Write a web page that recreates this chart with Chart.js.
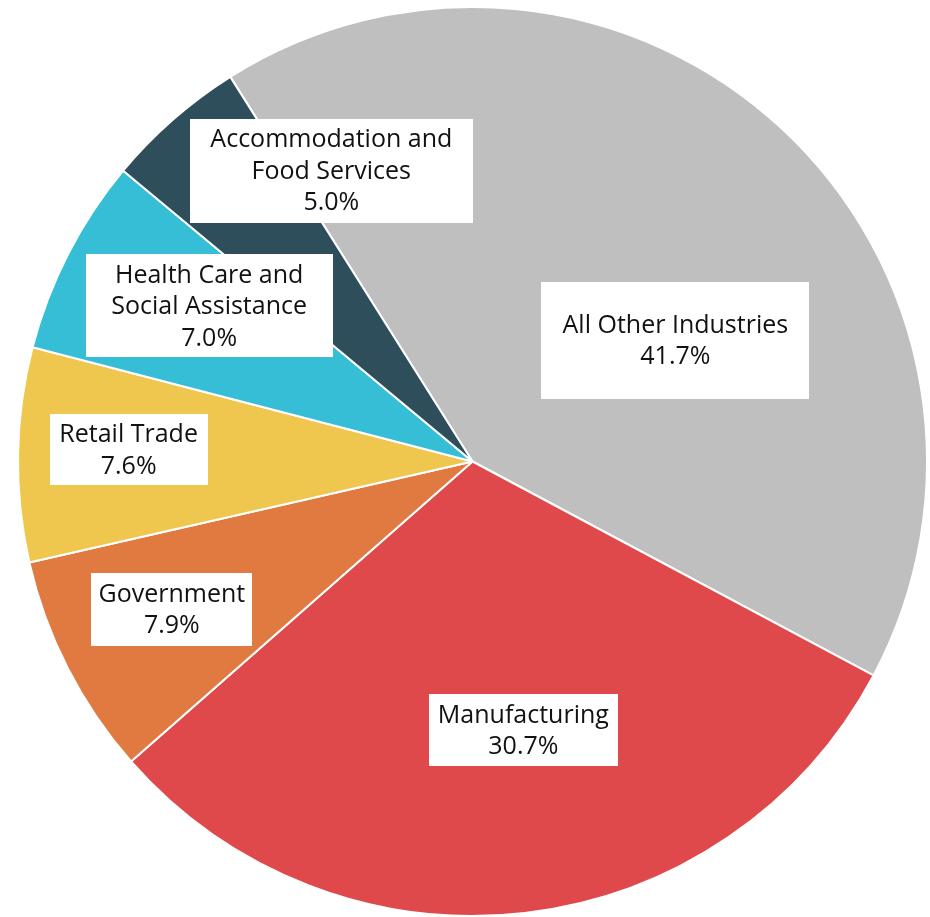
<!DOCTYPE html>
<html>
<head>
<meta charset="utf-8">
<script src="https://cdn.jsdelivr.net/npm/chart.js@4/dist/chart.umd.min.js"></script>
<style>
  html, body { margin: 0; padding: 0; background: #ffffff; }
  #wrap { width: 930px; height: 917px; }
</style>
</head>
<body>
<div id="wrap"><canvas id="c" width="930" height="917"></canvas></div>
<script>
// Share of total by industry (percent)
const industries = [
  'All Other Industries',
  'Manufacturing',
  'Government',
  'Retail Trade',
  'Health Care and Social Assistance',
  'Accommodation and Food Services'
];
const shares = [41.7, 30.7, 7.9, 7.6, 7.0, 5.0];

// Lines shown in each label box (name lines, then the percentage)
const labelLines = [
  ['All Other Industries'],
  ['Manufacturing'],
  ['Government'],
  ['Retail Trade'],
  ['Health Care and', 'Social Assistance'],
  ['Accommodation and', 'Food Services']
];

// Slice colours
const sliceColors = ['#BFBFBF', '#E0494B', '#E07A41', '#EFC74F', '#35BED5', '#2E4E5B'];

// Label box placement: angle nudge from the slice middle (deg), distance as a fraction of the radius
const labelAngleNudge = [16.2, -4.1, 0.9, 1.1, 3.4, 15.3];
const labelRadiusFrac = [0.52, 0.602, 0.737, 0.757, 0.673, 0.711];
// Label box sizes (px)
const labelBoxW = [268, 189, 161, 158, 247, 283];
const labelBoxH = [117, 72, 73, 71, 103, 104];

const LABEL_FONT = '25px "Open Sans", "Liberation Sans", sans-serif';
const LINE_H = 31.5;

const boxLabels = {
  id: 'boxLabels',
  afterDatasetsDraw(chart) {
    const ctx = chart.ctx;
    const meta = chart.getDatasetMeta(0);
    ctx.save();
    ctx.font = LABEL_FONT;
    ctx.textAlign = 'center';
    ctx.textBaseline = 'middle';
    meta.data.forEach((arc, i) => {
      const p = arc.getProps(['x', 'y', 'startAngle', 'endAngle', 'outerRadius'], true);
      const a = (p.startAngle + p.endAngle) / 2 + labelAngleNudge[i] * Math.PI / 180;
      const r = p.outerRadius * labelRadiusFrac[i];
      const cx = p.x + Math.cos(a) * r;
      const cy = p.y + Math.sin(a) * r;
      const w = labelBoxW[i], h = labelBoxH[i];
      ctx.fillStyle = '#ffffff';
      ctx.fillRect(Math.round(cx - w / 2), Math.round(cy - h / 2), w, h);
      const lines = labelLines[i].concat([shares[i].toFixed(1) + '%']);
      const top = cy - (lines.length - 1) * LINE_H / 2 + 1;
      ctx.fillStyle = '#111111';
      lines.forEach((t, k) => ctx.fillText(t, cx, top + k * LINE_H));
    });
    ctx.restore();
  }
};

new Chart(document.getElementById('c'), {
  type: 'pie',
  data: {
    labels: industries,
    datasets: [{
      data: shares,
      backgroundColor: sliceColors,
      borderColor: '#ffffff',
      borderWidth: 2
    }]
  },
  options: {
    responsive: false,
    animation: false,
    rotation: -32.2,
    layout: { padding: { left: 16, right: 1, top: 6, bottom: 0 } },
    plugins: {
      legend: { display: false },
      tooltip: { enabled: false }
    }
  },
  plugins: [boxLabels]
});
</script>
</body>
</html>
